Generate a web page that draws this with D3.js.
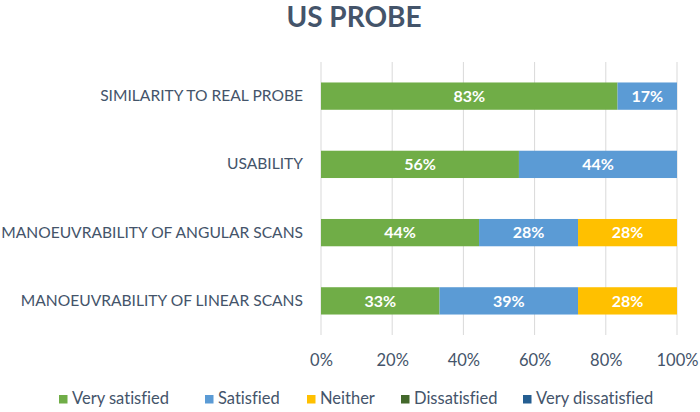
<!DOCTYPE html>
<html>
<head>
<meta charset="utf-8">
<script src="https://cdn.jsdelivr.net/npm/d3@7"></script>
<style>
  body { margin: 0; background: #fff; }
  text { font-family: Lato, "Open Sans", sans-serif; font-variant-ligatures: none; }
</style>
</head>
<body>
<div id="chart"></div>
<script>
// chart data
const categories = [
    'SIMILARITY TO REAL PROBE',
    'USABILITY',
    'MANOEUVRABILITY OF ANGULAR SCANS',
    'MANOEUVRABILITY OF LINEAR SCANS'
];
const seriesNames = ['Very satisfied', 'Satisfied', 'Neither', 'Dissatisfied', 'Very dissatisfied'];
const verySatisfied    = [83.3, 55.6, 44.4, 33.3];
const satisfied        = [16.7, 44.4, 27.8, 38.9];
const neither          = [0, 0, 27.8, 27.8];
const dissatisfied     = [0, 0, 0, 0];
const veryDissatisfied = [0, 0, 0, 0];
const tickValues = [0, 20, 40, 60, 80, 100];
const colors = ['#70AD47', '#5B9BD5', '#FFC000', '#43682B', '#255E91'];

document.addEventListener('DOMContentLoaded', function() {
    const width = 700, height = 412;
    const margin = { top: 62, right: 23, bottom: 77, left: 321 };

    const svg = d3.select('#chart')
                  .append('svg')
                  .attr('width', width)
                  .attr('height', height);

    const rows = categories.map((c, i) => ({
        category: c,
        'Very satisfied': verySatisfied[i],
        'Satisfied': satisfied[i],
        'Neither': neither[i],
        'Dissatisfied': dissatisfied[i],
        'Very dissatisfied': veryDissatisfied[i]
    }));

    const x = d3.scaleLinear()
                .domain([0, 100])
                .range([margin.left, width - margin.right]);

    const y = d3.scaleBand()
                .domain(categories)
                .range([margin.top, height - margin.bottom])
                .paddingInner(0.6)
                .paddingOuter(0.3);

    const color = d3.scaleOrdinal().domain(seriesNames).range(colors);

    // title
    svg.append('text')
       .attr('x', 354)
       .attr('y', 27)
       .attr('text-anchor', 'middle')
       .attr('font-size', 28)
       .attr('font-weight', 'bold')
       .attr('fill', '#44546A')
       .text('US PROBE');

    // gridlines
    svg.append('g')
       .selectAll('line')
       .data(tickValues)
       .enter()
       .append('line')
       .attr('x1', d => x(d))
       .attr('x2', d => x(d))
       .attr('y1', margin.top)
       .attr('y2', height - margin.bottom)
       .attr('stroke', '#D9D9D9')
       .attr('stroke-width', 1);

    // x axis labels
    const xAxis = svg.append('g')
       .attr('transform', `translate(0,${height - margin.bottom})`)
       .call(d3.axisBottom(x).tickValues(tickValues).tickSize(0).tickFormat(d => d + '%'));
    xAxis.select('.domain').remove();
    xAxis.selectAll('text')
         .attr('y', 31)
         .attr('dy', null)
         .attr('font-size', 16.5)
         .attr('fill', '#44546A')
         .style('font-family', 'Lato, "Open Sans", sans-serif');

    // category labels
    const yAxis = svg.append('g')
       .attr('transform', `translate(${margin.left - 18},0)`)
       .call(d3.axisLeft(y).tickSize(0));
    yAxis.select('.domain').remove();
    yAxis.selectAll('text')
         .attr('x', 0)
         .attr('font-size', 15.6)
         .attr('fill', '#44546A')
         .style('font-family', 'Lato, "Open Sans", sans-serif');

    // stacked bars
    const stacked = d3.stack().keys(seriesNames)(rows);

    const layers = svg.append('g')
       .selectAll('g')
       .data(stacked)
       .enter()
       .append('g')
       .attr('fill', d => color(d.key));

    layers.selectAll('rect')
       .data(d => d)
       .enter()
       .append('rect')
       .attr('x', d => x(d[0]))
       .attr('y', d => y(d.data.category))
       .attr('width', d => x(d[1]) - x(d[0]))
       .attr('height', y.bandwidth());

    layers.selectAll('text')
       .data(d => d.filter(p => p[1] - p[0] > 0))
       .enter()
       .append('text')
       .attr('x', d => (x(d[0]) + x(d[1])) / 2)
       .attr('y', d => y(d.data.category) + y.bandwidth() / 2)
       .attr('dy', '0.36em')
       .attr('text-anchor', 'middle')
       .attr('font-size', 16)
       .attr('font-weight', 'bold')
       .attr('fill', '#fff')
       .text(d => Math.round(d[1] - d[0]) + '%');

    // legend
    const legendX = [59, 205, 307, 401, 523];
    const legend = svg.append('g')
       .selectAll('g')
       .data(seriesNames)
       .enter()
       .append('g')
       .attr('transform', (d, i) => `translate(${legendX[i]},404)`);

    legend.append('rect')
       .attr('x', 0)
       .attr('y', -9)
       .attr('width', 8.5)
       .attr('height', 8.5)
       .attr('fill', d => color(d));

    legend.append('text')
       .attr('x', 13)
       .attr('y', 0)
       .attr('font-size', 16.5)
       .attr('fill', '#44546A')
       .text(d => d);
});
</script>
</body>
</html>
